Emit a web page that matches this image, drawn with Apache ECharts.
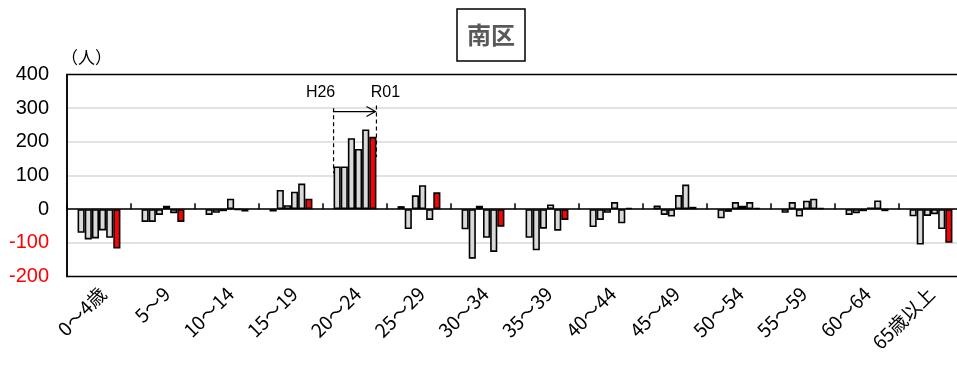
<!DOCTYPE html>
<html>
<head>
<meta charset="utf-8">
<script src="https://cdn.jsdelivr.net/npm/echarts@6/dist/echarts.min.js"></script>
<style>
  html, body { margin: 0; padding: 0; background: #fff; overflow: hidden; width: 957px; height: 369px; }
  #chart { width: 963px; height: 369px; }
</style>
</head>
<body>
<div id="chart"></div>
<script>
// Age groups (x categories)
const categories = ['0～4歳', '5～9', '10～14', '15～19', '20～24', '25～29', '30～34',
  '35～39', '40～44', '45～49', '50～54', '55～59', '60～64', '65歳以上'];

// Net change in population (人) per year, one array per year
const years = ['H26', 'H27', 'H28', 'H29', 'H30', 'R01'];
const h26 = [-70, -38, -17, -7, 127, 9, -60, -85, -53, 11, -27, -11, -17, -21];
const h27 = [-90, -38, -11, 57, 127, -59, -147, -122, -32, -17, -8, 21, -12, -105];
const h28 = [-87, -17, -6, 12, 211, 41, 10, -58, -11, -22, 21, -22, -6, -20];
const h29 = [-63, 10, 31, 52, 179, 71, -85, 14, 21, 42, 10, 25, 5, -15];
const h30 = [-85, -12, -2, 76, 237, -32, -127, -64, -42, 73, 21, 31, 26, -59];
const r01 = [-117, -38, -7, 31, 215, 50, -52, -32, 4, 7, 4, 4, -6, -100];
const yearData = [h26, h27, h28, h29, h30, r01];

// Y axis range / ticks
const yMin = -200, yMax = 400, yStep = 100;

const chart = echarts.init(document.getElementById('chart'), null, { renderer: 'canvas' });

const GAP = 0.33;
const series = years.map((y, i) => ({
  name: y,
  type: 'bar',
  xAxisIndex: 0,
  yAxisIndex: 0,
  data: yearData[i],
  barGap: '0%',
  barCategoryGap: (GAP * 100) + '%',
  itemStyle: {
    color: i === years.length - 1 ? '#ff0000' : '#d9d9d9',
    borderColor: '#000',
    borderWidth: 1.6
  },
  emphasis: { disabled: true },
  animation: false
}));

chart.setOption({
  animation: false,
  title: {
    text: '南区',
    left: 457,
    top: 9,
    borderColor: '#000',
    borderWidth: 1.5,
    padding: [12, 10, 12, 10],
    textStyle: { fontSize: 24, fontWeight: 'bold', color: '#595959', fontFamily: 'Noto Sans CJK JP', lineHeight: 28 }
  },
  grid: [
    // plot area
    { left: 67, right: 0, top: 74.5, bottom: 92.5, show: true, borderColor: '#000', borderWidth: 1.5, backgroundColor: 'transparent', z: 3 },
    // category label strip, nudged right so rotated labels end beside each group
    { left: 71, right: -4, top: 74.5, bottom: 92.5, show: false }
  ],
  xAxis: [
    {
      type: 'category',
      gridIndex: 0,
      data: categories,
      axisLine: { onZero: true, lineStyle: { color: '#000', width: 1.5 } },
      axisTick: { show: true, inside: true, length: 6, interval: 0, lineStyle: { color: '#000', width: 1.5 } },
      axisLabel: { show: false },
      splitLine: { show: false }
    },
    {
      type: 'category',
      gridIndex: 1,
      data: categories,
      position: 'bottom',
      axisLine: { show: false, onZero: false },
      axisTick: { show: false },
      axisLabel: {
        interval: 0, rotate: 45, margin: 14,
        fontSize: 19, color: '#000', fontFamily: 'Noto Sans CJK JP'
      }
    }
  ],
  yAxis: [
    {
      type: 'value',
      gridIndex: 0,
      min: yMin, max: yMax, interval: yStep,
      name: '（人）',
      nameLocation: 'end',
      nameGap: 8,
      nameTextStyle: { fontSize: 17, color: '#000', align: 'left', padding: [0, 0, 0, -6], fontFamily: 'Noto Sans CJK JP' },
      axisLine: { show: true, lineStyle: { color: '#000', width: 1.5 } },
      axisTick: { show: false },
      axisLabel: {
        fontSize: 20, margin: 18, fontFamily: 'Liberation Sans',
        color: v => (Number(v) < 0 ? '#ff0000' : '#000')
      },
      splitLine: { showMinLine: false, showMaxLine: false, lineStyle: { color: '#d9d9d9', width: 1.5 } }
    },
    {
      type: 'value',
      gridIndex: 1,
      min: yMin, max: yMax, interval: yStep,
      show: false
    }
  ],
  series: series
});

// Span marker over the 20～24 group: H26 (first bar) → R01 (last bar)
function drawSpanMarker() {
  const idx = categories.indexOf('20～24');
  const cx = chart.convertToPixel({ xAxisIndex: 0 }, idx);
  const band = chart.convertToPixel({ xAxisIndex: 0 }, idx + 1) - cx;
  const half = band * (1 - GAP) / 2;
  const xL = cx - half, xR = cx + half;
  const yp = v => chart.convertToPixel({ yAxisIndex: 0 }, v);
  const yArrow = yp(290);
  const dash = { stroke: '#000', lineWidth: 1.2, lineDash: [4, 3] };
  const label = { fontSize: 16, fontFamily: 'Liberation Sans', fill: '#000', align: 'center', verticalAlign: 'middle' };
  chart.setOption({
    graphic: [
      { type: 'line', shape: { x1: xL, y1: yp(300), x2: xL, y2: yp(h26[idx] - 20) }, style: dash, z: 100 },
      { type: 'line', shape: { x1: xR, y1: yp(308), x2: xR, y2: yp(155) }, style: dash, z: 100 },
      { type: 'line', shape: { x1: xL, y1: yArrow, x2: xR - 1, y2: yArrow }, style: { stroke: '#000', lineWidth: 1.2 }, z: 100 },
      { type: 'polyline', shape: { points: [[xR - 10, yArrow - 5], [xR - 1, yArrow], [xR - 10, yArrow + 5]] }, style: { stroke: '#000', lineWidth: 1.2, fill: null }, z: 100 },
      { type: 'text', x: xL - 13, y: yp(345), style: Object.assign({ text: years[0] }, label), z: 100 },
      { type: 'text', x: xR + 9, y: yp(345), style: Object.assign({ text: years[years.length - 1] }, label), z: 100 }
    ]
  });
}
drawSpanMarker();
</script>
</body>
</html>
